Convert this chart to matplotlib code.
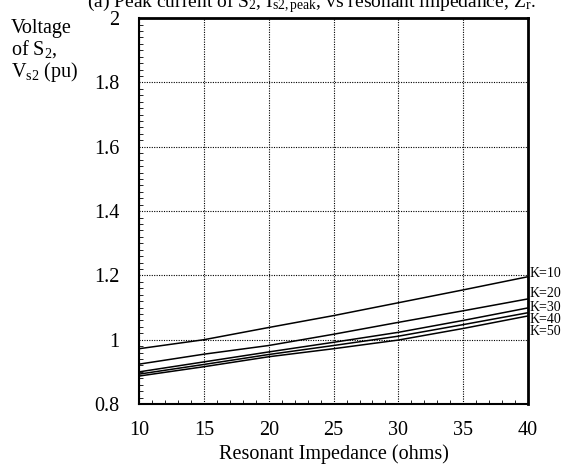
import numpy as np
import matplotlib.pyplot as plt
from matplotlib.ticker import MultipleLocator

# Données
impedance = [10, 15, 20, 25, 30, 35, 40]
k_labels = ["K=10", "K=20", "K=30", "K=40", "K=50"]
v_k10 = [0.972, 1.000, 1.038, 1.075, 1.115, 1.155, 1.196]
v_k20 = [0.924, 0.955, 0.982, 1.017, 1.054, 1.090, 1.127]
v_k30 = [0.900, 0.931, 0.962, 0.992, 1.023, 1.060, 1.099]
v_k40 = [0.893, 0.923, 0.954, 0.982, 1.011, 1.047, 1.084]
v_k50 = [0.887, 0.916, 0.947, 0.972, 0.999, 1.035, 1.074]
series = [v_k10, v_k20, v_k30, v_k40, v_k50]
# position verticale des étiquettes (décalées pour ne pas se chevaucher)
label_y = [1.207, 1.145, 1.101, 1.064, 1.027]

plt.rcParams["font.family"] = ["Liberation Serif", "DejaVu Serif"]
plt.rcParams["mathtext.fontset"] = "custom"
plt.rcParams["mathtext.rm"] = "Liberation Serif"
plt.rcParams["mathtext.it"] = "Liberation Serif:italic"

fig = plt.figure(figsize=(5.63, 4.66), dpi=100)
ax = fig.add_axes([0.247, 0.133, 0.691, 0.828])

for v in series:
    ax.plot(impedance, v, color="black", lw=1.1)

for lab, y in zip(k_labels, label_y):
    ax.text(40.1, y, lab, fontsize=10, va="center", ha="left", clip_on=False)

ax.set_xlim(10, 40)
ax.set_ylim(0.8, 2)
ax.xaxis.set_major_locator(MultipleLocator(5))
ax.xaxis.set_minor_locator(MultipleLocator(1))
ax.yaxis.set_major_locator(MultipleLocator(0.2))
ax.yaxis.set_minor_locator(MultipleLocator(0.02))
ax.set_yticks([0.8, 1.0, 1.2, 1.4, 1.6, 1.8, 2.0])
ax.set_yticklabels(["0.8", "1", "1.2", "1.4", "1.6", "1.8", "2"])
ax.grid(True, which="major", color="black", ls=(0, (1, 1.2)), lw=0.8)
ax.tick_params(which="both", direction="in", labelsize=14.5)
ax.tick_params(which="major", length=0, pad=12)
ax.tick_params(which="minor", length=3)
ax.tick_params(axis="y", pad=14)
for s in ["left", "bottom"]:
    ax.spines[s].set_linewidth(1.5)
for s in ["right", "top"]:
    ax.spines[s].set_linewidth(2)

ax.set_xlabel("Resonant Impedance (ohms)", fontsize=14.5, labelpad=3)
fig.text(0.02, 0.96, "Voltage\nof S$_\\mathrm{2}$,\nV$_\\mathrm{s2}$ (pu)", fontsize=14.5,
         va="top", ha="left", linespacing=1.0)
fig.text(0.553, 1 - 7 / 466,
         "(a) Peak current of S$_\\mathrm{2}$, I$_\\mathrm{s2,peak}$, vs resonant impedance, Z$_\\mathrm{r}$.",
         fontsize=14, ha="center", va="baseline")

fig.savefig("out.png", dpi=100)
